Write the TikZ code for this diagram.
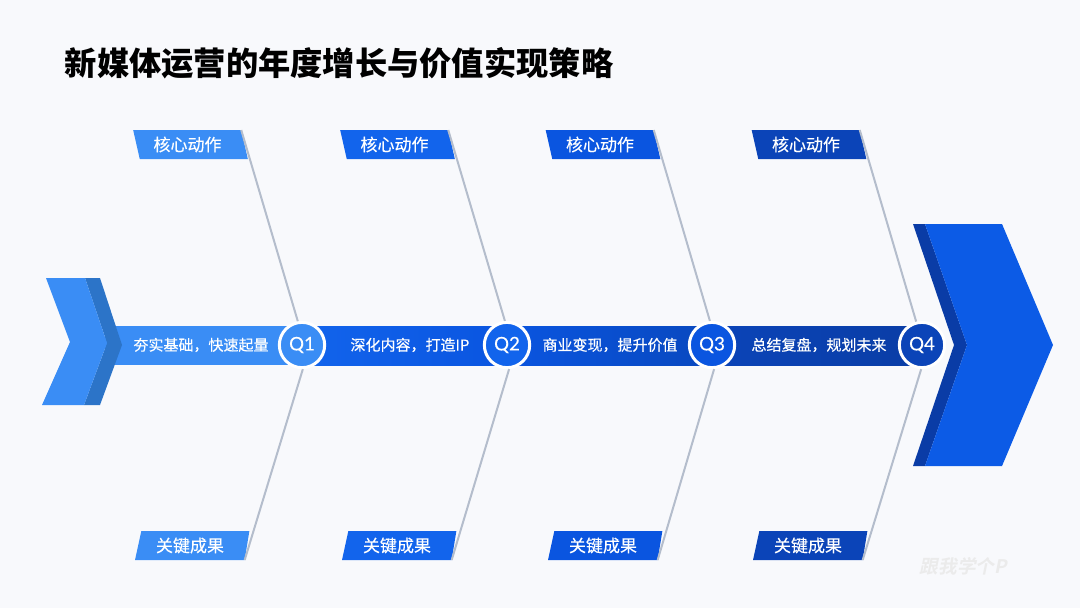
\documentclass[tikz,border=0pt]{standalone}
\usepackage{fontspec}
\setmainfont{Noto Sans CJK SC}
\newfontfamily\labelfont[FakeBold=0.3]{Noto Sans CJK SC}
\newfontfamily\qfont[FakeBold=0.3]{Lato}
\newfontfamily\markfont[FakeSlant=0.2]{Noto Sans CJK SC Bold}
\usepackage{xcolor}
\usetikzlibrary{shapes.geometric}
\definecolor{pagebg}{HTML}{F8F9FC}
\definecolor{ribline}{HTML}{B4BDCC}
\definecolor{qa}{HTML}{3A8DF5}
\definecolor{qb}{HTML}{1264EC}
\definecolor{qc}{HTML}{0A55E0}
\definecolor{qd}{HTML}{0B44B8}
\definecolor{tailshade}{HTML}{2C74C8}
\definecolor{headfront}{HTML}{0C5BE6}
\definecolor{headshade}{HTML}{0A3CA6}
\tikzset{
  flagtop/.style={trapezium,trapezium stretches=true,trapezium left angle=107,
    trapezium right angle=73,minimum width=86.25pt,minimum height=21.75pt,
    inner sep=0pt,outer sep=0pt,text=white,font=\fontsize{12.75pt}{14pt}\selectfont\labelfont,
    execute at end node={\hspace{4.5pt}}},
  flagbottom/.style={flagtop,trapezium left angle=74,trapezium right angle=102},
  quarter/.style={circle,draw=white,line width=2.25pt,minimum size=34pt,inner sep=0pt,
    text=white,font=\fontsize{14pt}{16pt}\selectfont\qfont},
  spinelabel/.style={text=white,inner sep=0pt,font=\fontsize{11.25pt}{14pt}\selectfont\labelfont},
  rib/.style={draw=ribline,line width=1.5pt}
}
\begin{document}
\begin{tikzpicture}[x=0.75pt,y=-0.75pt]
  \useasboundingbox (0,0) rectangle (1080,608);
  \fill[pagebg] (0,0) rectangle (1080,608);
  \node[font=\fontsize{24.2pt}{28pt}\selectfont\bfseries,anchor=west,inner sep=0pt] (title) at (64.5,63)
    {新媒体运营的年度增长与价值实现策略};
  % spine
  \fill[qa] (105,326) rectangle (302,365);
  \shade[left color=qb,right color=qc] (302,326) rectangle (507,365);
  \shade[left color=qc,right color=qc!85!black] (507,326) rectangle (712,365);
  \shade[left color=qd,right color=qd!90!black] (712,326) rectangle (922,365);
  % tail and head
  \fill[tailshade] (85,278) -- (100,278) -- (122,345) -- (100,405) -- (84,405) -- (107,343) -- cycle;
  \fill[qa] (46,278) -- (85,278) -- (107,343) -- (84,405) -- (42,405) -- (70,342) -- cycle;
  \fill[headshade] (913,224) -- (925,224) -- (967,345) -- (925,466) -- (913,466) -- (954,345) -- cycle;
  \fill[headfront] (925,224) -- (1002,224) -- (1053,345) -- (1002,466) -- (925,466) -- (967,345) -- cycle;
  \node[spinelabel] (s1) at (201,345) {夯实基础，快速起量};
  \node[spinelabel] (s2) at (410,345) {深化内容，打造IP};
  \node[spinelabel] (s3) at (610,345) {商业变现，提升价值};
  \node[spinelabel] (s4) at (819,345) {总结复盘，规划未来};
  % flags
  \node[flagtop,fill=qa] (t1) at (190.5,144.5) {核心动作};
  \node[flagtop,fill=qb] (t2) at (397.5,144.5) {核心动作};
  \node[flagtop,fill=qc] (t3) at (603,144.5) {核心动作};
  \node[flagtop,fill=qd] (t4) at (809,144.5) {核心动作};
  \node[flagbottom,fill=qa] (b1) at (193,545.5) {关键成果};
  \node[flagbottom,fill=qb] (b2) at (400,545.5) {关键成果};
  \node[flagbottom,fill=qc] (b3) at (606,545.5) {关键成果};
  \node[flagbottom,fill=qd] (b4) at (811,545.5) {关键成果};
  % quarters
  \node[quarter,fill=qa] (q1) at (302,345) {Q1};
  \node[quarter,fill=qb] (q2) at (507,345) {Q2};
  \node[quarter,fill=qc] (q3) at (712,345) {Q3};
  \node[quarter,fill=qd] (q4) at (922,345) {Q4};
  % ribs
  \draw[rib] (t1.top right corner) -- (q1.100);
  \draw[rib] (t2.top right corner) -- (q2.95);
  \draw[rib] (t3.top right corner) -- (q3.95);
  \draw[rib] (t4.top right corner) -- (q4.104);
  \draw[rib] (b1.bottom right corner) -- (q1.272);
  \draw[rib] (b2.bottom right corner) -- (q2.275);
  \draw[rib] (b3.bottom right corner) -- (q3.275);
  \draw[rib] (b4.bottom right corner) -- (q4.268);
  \node[text=black!8,inner sep=0pt,font=\fontsize{14pt}{15pt}\selectfont\markfont] (mark) at (963.5,566) {跟我学个P};
\end{tikzpicture}
\end{document}
